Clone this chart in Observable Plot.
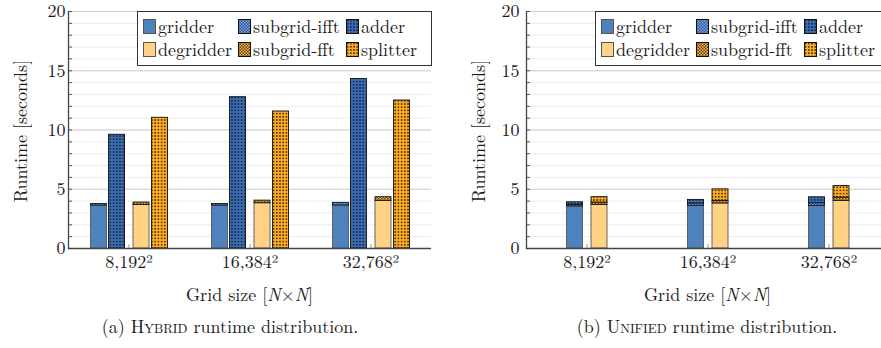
<!DOCTYPE html>
<html><head><meta charset="utf-8">
<script src="https://cdn.jsdelivr.net/npm/d3@7"></script>
<script src="https://cdn.jsdelivr.net/npm/@observablehq/plot@0.6"></script>
<style>
body{margin:0;background:#fff;}
#wrap{position:relative;width:881px;height:348px;overflow:hidden;font-family:'Latin Modern Roman','Liberation Serif',serif;color:#1a1a1a;}
#wrap *{font-family:'Latin Modern Roman','Liberation Serif',serif;}
.panel{position:absolute;top:0;width:440px;height:348px;}
.lab{position:absolute;white-space:nowrap;transform:translate(-50%,-50%);font-size:18px;line-height:1;}
.ylab{position:absolute;white-space:nowrap;font-size:18px;line-height:1;transform:translate(-50%,-50%) rotate(-90deg);}
.legend{position:absolute;top:11px;left:137px;width:295px;height:55px;border:1.3px solid #333;background:#fff;box-sizing:border-box;}
.li{position:absolute;white-space:nowrap;font-size:18px;line-height:1;}
.sw{position:absolute;}
.cap{position:absolute;white-space:nowrap;transform:translate(-50%,-50%);font-size:18px;line-height:1;}
.sc{font-variant:small-caps;}
</style>
</head><body>
<svg width="0" height="0" style="position:absolute">
<defs>
<pattern id="pDotsBlue" width="3.2" height="3.2" patternUnits="userSpaceOnUse">
<rect width="3.2" height="3.2" fill="#3a6db8"/><rect x="0.9" y="0.9" width="1.4" height="1.4" fill="#111"/>
</pattern>
<pattern id="pDotsOrange" width="3.2" height="3.2" patternUnits="userSpaceOnUse">
<rect width="3.2" height="3.2" fill="#ffab1f"/><rect x="0.9" y="0.9" width="1.4" height="1.4" fill="#111"/>
</pattern>
<pattern id="pChkBlue" width="3" height="3" patternUnits="userSpaceOnUse">
<rect width="3" height="3" fill="#24509a"/><rect width="1.5" height="1.5" fill="#86a9dc"/><rect x="1.5" y="1.5" width="1.5" height="1.5" fill="#86a9dc"/>
</pattern>
<pattern id="pChkOrange" width="3" height="3" patternUnits="userSpaceOnUse">
<rect width="3" height="3" fill="#ffb94a"/><rect width="1.5" height="1.5" fill="#5a3d0c"/><rect x="1.5" y="1.5" width="1.5" height="1.5" fill="#5a3d0c"/>
</pattern>
</defs>
</svg>
<div id="wrap"></div>
<script>
const sizes = ["8,192²", "16,384²", "32,768²"];
const seriesNames = ["gridder", "subgrid-ifft", "adder", "degridder", "subgrid-fft", "splitter"];
const seriesFills = ["#4f81bd", "url(#pChkBlue)", "url(#pDotsBlue)", "#ffd285", "url(#pChkOrange)", "url(#pDotsOrange)"];
const yTicks = [0, 5, 10, 15, 20];
const yMinor = d3.range(0, 21, 1);

// (a) Hybrid
const hybridGridder     = [3.62, 3.62, 3.63];
const hybridSubgridIfft = [0.13, 0.14, 0.22];
const hybridAdder       = [9.60, 12.77, 14.30];
const hybridDegridder   = [3.68, 3.82, 4.02];
const hybridSubgridFft  = [0.20, 0.22, 0.31];
const hybridSplitter    = [11.03, 11.56, 12.49];
// (b) Unified
const unifiedGridder     = [3.55, 3.60, 3.60];
const unifiedSubgridIfft = [0.12, 0.20, 0.22];
const unifiedAdder       = [0.23, 0.30, 0.50];
const unifiedDegridder   = [3.68, 3.80, 4.02];
const unifiedSubgridFft  = [0.20, 0.22, 0.28];
const unifiedSplitter    = [0.45, 0.97, 0.97];

function rows(values, slots) {
  const out = [];
  seriesNames.forEach((s, i) => sizes.forEach((z, j) => out.push({size: z, series: s, slot: slots[i], value: values[i][j]})));
  return out;
}
const hybridRows = rows([hybridGridder, hybridSubgridIfft, hybridAdder, hybridDegridder, hybridSubgridFft, hybridSplitter], ["A","A","B","C","C","D"]);
const unifiedRows = rows([unifiedGridder, unifiedSubgridIfft, unifiedAdder, unifiedDegridder, unifiedSubgridFft, unifiedSplitter], ["B","B","B","C","C","C"]);

const W = 440, H = 285, ML = 68, MR = 9, MT = 11, MB = 37;
const innerW = W - ML - MR, innerH = H - MT - MB;
const bw = innerW / sizes.length, barW = 16;
const slotOffset = {A: -30, B: -12, C: 12.5, D: 31};
const FONT = "'Latin Modern Roman', 'Liberation Serif', serif";

function makePlot(data, tickPad) {
  const bars = Object.keys(slotOffset).map(k => {
    const o = slotOffset[k];
    return Plot.barY(data.filter(d => d.slot === k), {
      x: "size", y: "value", fill: "series",
      stroke: d => (d.series === "gridder" || d.series === "degridder") ? "#555" : "#111",
      strokeWidth: 0.9,
      insetLeft: bw / 2 + o - barW / 2, insetRight: bw / 2 - o - barW / 2
    });
  });
  return Plot.plot({
    width: W, height: H, marginLeft: ML, marginRight: MR, marginTop: MT, marginBottom: MB,
    x: {domain: sizes, padding: 0, axis: null},
    y: {domain: [0, 20], axis: null},
    color: {domain: seriesNames, range: seriesFills},
    style: {fontFamily: FONT, fontSize: "18px", color: "#1a1a1a", background: "transparent", overflow: "visible"},
    marks: [
      Plot.gridY(yMinor, {stroke: "#ececec", strokeOpacity: 1}),
      Plot.gridY(yTicks, {stroke: "#cfcfcf", strokeOpacity: 1}),
      Plot.ruleY(yMinor, {stroke: "#555", insetRight: innerW - 4}),
      Plot.ruleX(sizes, {stroke: "#999", insetTop: innerH - 4}),
      ...bars,
      Plot.axisY({ticks: yTicks, tickSize: 0, tickPadding: tickPad, fontSize: 18, fontFamily: FONT, label: null}),
      Plot.axisX({tickSize: 0, tickPadding: 7, fontSize: 18, fontFamily: FONT, label: null}),
      Plot.ruleY([0], {stroke: "#444", strokeWidth: 1.3}),
      Plot.frame({anchor: "left", stroke: "#444", strokeWidth: 1.3})
    ]
  });
}

function swatch(fill, stroke) {
  return `<svg width="13" height="15"><rect x="0.5" y="0.5" width="12" height="14" fill="${fill}" stroke="${stroke}" stroke-width="1"/></svg>`;
}

function legend() {
  const div = document.createElement("div");
  div.className = "legend";
  const colSw = [5, 100, 208], colTx = [20, 115, 223], rowSw = [4, 27], rowTx = [5, 28];
  const order = [[0, 1, 2], [3, 4, 5]];
  order.forEach((r, ri) => r.forEach((si, ci) => {
    const sw = document.createElement("div");
    sw.className = "sw";
    sw.style.left = colSw[ci] + "px"; sw.style.top = rowSw[ri] + "px";
    const pat = seriesFills[si].startsWith("url");
    sw.innerHTML = swatch(seriesFills[si], pat ? "#111" : "#555");
    div.appendChild(sw);
    const t = document.createElement("div");
    t.className = "li";
    t.textContent = seriesNames[si];
    t.style.left = colTx[ci] + "px"; t.style.top = rowTx[ri] + "px";
    div.appendChild(t);
  }));
  return div;
}

function panel(data, left, tickPad, capHTML, capX) {
  const p = document.createElement("div");
  p.className = "panel";
  p.style.left = left + "px";
  const svg = makePlot(data, tickPad);
  svg.style.position = "absolute"; svg.style.left = "0"; svg.style.top = "0";
  p.appendChild(svg);
  p.appendChild(legend());
  const yl = document.createElement("div");
  yl.className = "ylab"; yl.textContent = "Runtime [seconds]";
  yl.style.left = "20px"; yl.style.top = "131px";
  p.appendChild(yl);
  const xl = document.createElement("div");
  xl.className = "lab"; xl.innerHTML = "Grid size [<i>N</i>×<i>N</i>]";
  xl.style.left = (ML + innerW / 2) + "px"; xl.style.top = "294px";
  p.appendChild(xl);
  const cap = document.createElement("div");
  cap.className = "cap"; cap.innerHTML = capHTML;
  cap.style.left = capX + "px"; cap.style.top = "326px";
  p.appendChild(cap);
  return p;
}

const wrap = document.getElementById("wrap");
wrap.appendChild(panel(hybridRows, 0, 3, '(a) <span class="sc">Hybrid</span> runtime distribution.', 230));
wrap.appendChild(panel(unifiedRows, 458, 7, '(b) <span class="sc">Unified</span> runtime distribution.', 249));
</script>
</body></html>
